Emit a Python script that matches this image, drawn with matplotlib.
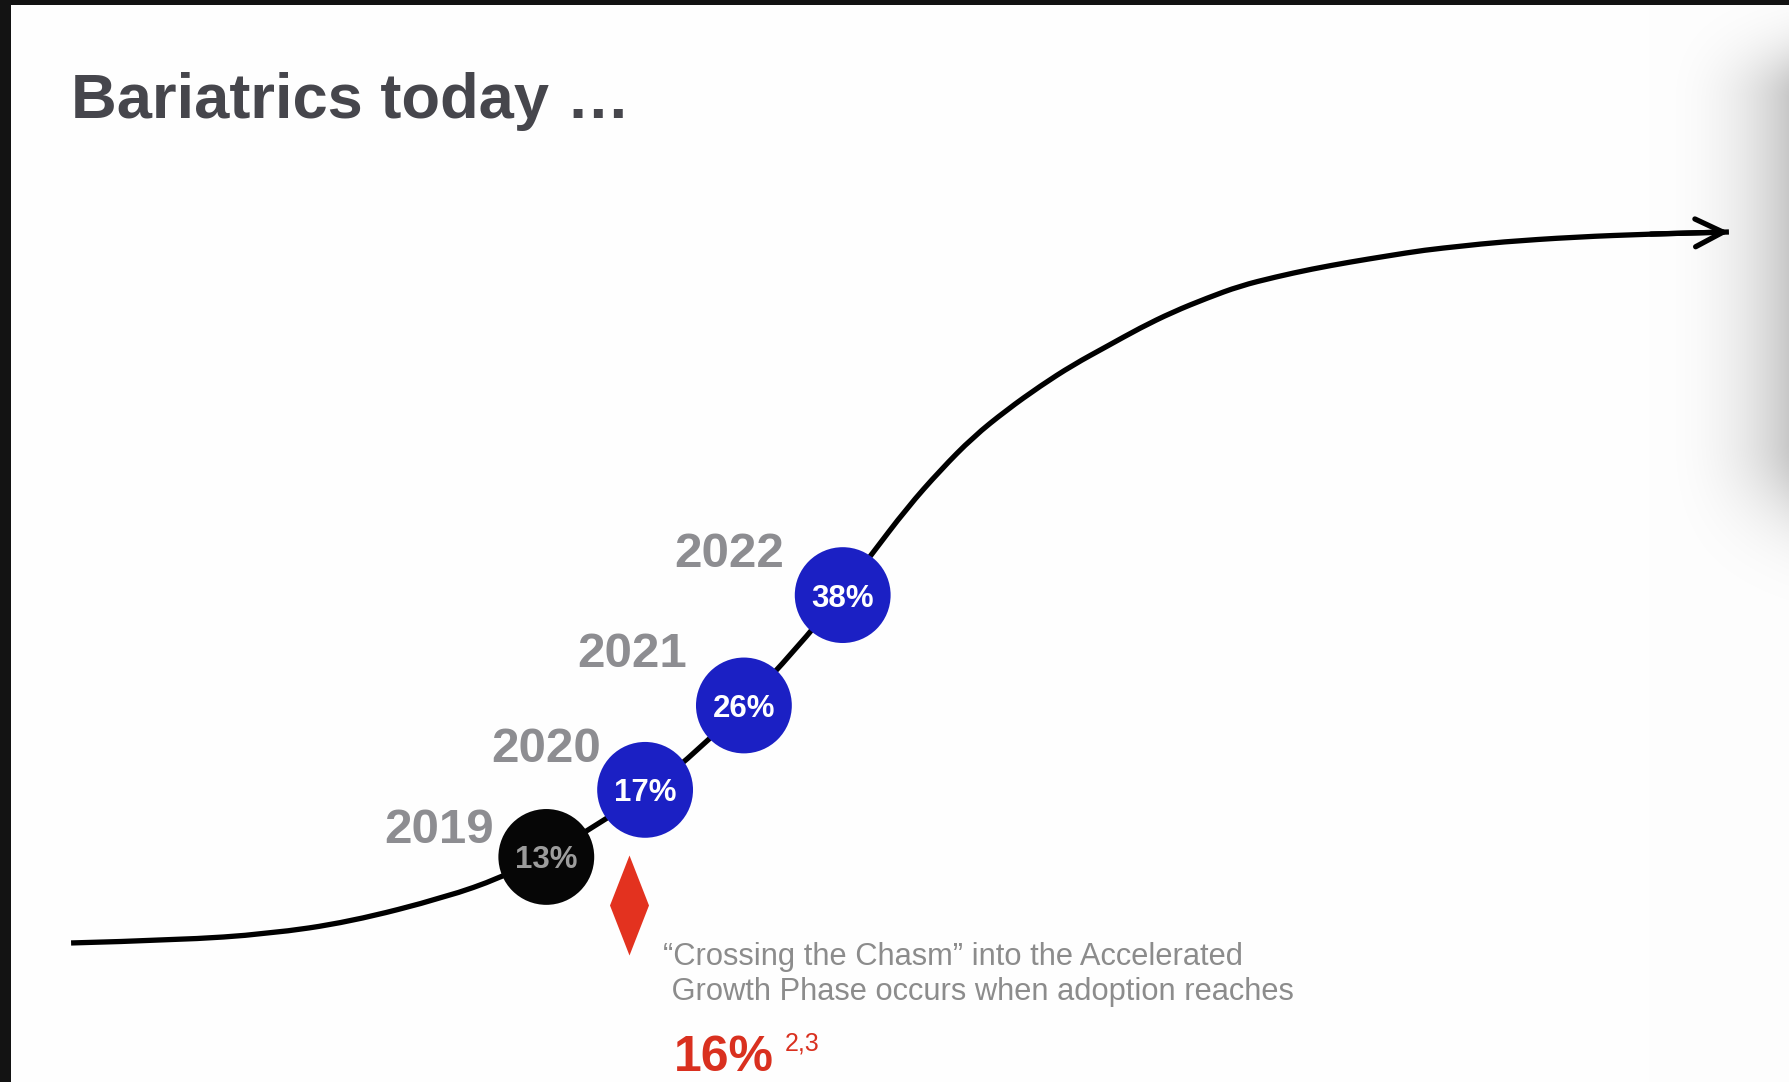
import numpy as np
import matplotlib.pyplot as plt
from matplotlib.path import Path
from matplotlib.patches import Rectangle, PathPatch

plt.rcParams['font.family'] = ['Liberation Sans', 'DejaVu Sans']

W, H = 1789, 1082

# adoption by year
years = [2019, 2020, 2021, 2022]
year_labels = ['2019', '2020', '2021', '2022']
adoption = [13, 17, 26, 38]
# height of each year's marker on the curve (0-100, measured from the slide bottom)
marker_level = [20.8, 27.0, 34.8, 45.0]

# S-shaped adoption curve: (timeline year, height)
curve_year = [2014.19, 2015.28, 2016.18, 2017.01, 2017.99, 2018.53, 2018.97,
              2019.51, 2020.05, 2020.56, 2021.00, 2021.52, 2021.98, 2022.28,
              2022.65, 2022.99, 2023.32, 2023.66, 2024.00, 2024.33, 2024.68,
              2025.01, 2025.34, 2025.69, 2026.02, 2026.38, 2026.75, 2027.14,
              2027.51, 2027.89, 2028.27, 2028.65, 2029.42, 2030.18, 2030.97]
curve_level = [12.85, 13.12, 13.68, 14.79, 17.10, 18.85, 20.79,
               23.75, 26.99, 30.87, 34.84, 39.93, 45.01, 48.61,
               53.05, 56.56, 59.61, 62.11, 64.33, 66.27, 68.02,
               69.69, 71.16, 72.46, 73.57, 74.40, 75.14, 75.79,
               76.34, 76.89, 77.26, 77.63, 78.10, 78.37, 78.56]

chasm_threshold = 16
chasm_refs = '2,3'
title = 'Bariatrics today \u2026'
caption = ['\u201cCrossing the Chasm\u201d into the Accelerated',
           ' Growth Phase occurs when adoption reaches']

BLUE = '#1b20c4'
GREY_TXT = '#8d8d91'
RED = '#d9301f'


def fpos(x, y):
    # pixel position from the top-left corner -> figure fraction
    return x / W, 1 - y / H


def smooth_path(xs, ys):
    # quadratic b-spline through the knot midpoints
    pts = np.column_stack([xs, ys])
    verts, codes = [pts[0]], [Path.MOVETO]
    for i in range(1, len(pts) - 1):
        verts += [pts[i], (pts[i] + pts[i + 1]) / 2]
        codes += [Path.CURVE3, Path.CURVE3]
    verts.append(pts[-1])
    codes.append(Path.LINETO)
    return Path(verts, codes)


fig = plt.figure(figsize=(W / 100, H / 100), dpi=100)
fig.patch.set_facecolor('#fefefe')

# soft grey shadow along the right edge
sh_w = 140
xx = np.linspace(0, 1, sh_w)[None, :]
yy = np.arange(H)[:, None]
horiz = xx ** 2.4
vert = np.where(yy < 100, np.exp(-((yy - 100) / 55.0) ** 2),
                np.where(yy > 440, np.exp(-((yy - 440) / 80.0) ** 2), 1.0))
dark = 0.21 * horiz * vert
shade = np.ones((H, sh_w, 3)) * (1 - dark)[:, :, None] * 0.996
fig.figimage(shade, xo=W - sh_w, yo=0, origin='upper', zorder=-1)

# dark window frame on top and left
fig.patches.append(Rectangle((0, 1 - 5 / H), 1, 5 / H, transform=fig.transFigure,
                             facecolor='#121212', edgecolor='none', zorder=5))
fig.patches.append(Rectangle((0, 0), 11 / W, 1, transform=fig.transFigure,
                             facecolor='#131313', edgecolor='none', zorder=5))

ax = fig.add_axes([0, 0, 1, 1])
ax.patch.set_visible(False)
ax.set_xlim(2013.4706, 2031.578)
ax.set_ylim(0, 100)
ax.axis('off')

# curve with an open arrowhead at the end
ax.add_patch(PathPatch(smooth_path(curve_year, curve_level), facecolor='none',
                       edgecolor='black', lw=3.8, capstyle='butt',
                       joinstyle='round', zorder=2))
ax.annotate('', xy=(curve_year[-1], curve_level[-1]),
            xytext=(curve_year[-2], curve_level[-2]),
            arrowprops=dict(arrowstyle='->,head_length=1.0,head_width=0.5',
                            lw=3.8, color='black', mutation_scale=20,
                            shrinkA=0, shrinkB=0),
            zorder=2)

# yearly markers
colors = ['#060606'] + [BLUE] * (len(years) - 1)
txt_colors = ['#9c9c9c'] + ['white'] * (len(years) - 1)
ax.scatter(years, marker_level, s=69 ** 2, c=colors, edgecolors='none', zorder=3)

label_off = [(-52, 14), (-44, 28), (-57, 38), (-59, 28)]
for yr, lvl, pct, lab, tc, off in zip(years, marker_level, adoption,
                                      year_labels, txt_colors, label_off):
    ax.annotate(f'{pct}%', (yr, lvl), xytext=(0, -11.5), textcoords='offset pixels',
                ha='center', va='baseline', fontsize=22.5, fontweight='bold',
                color=tc, zorder=4)
    ax.annotate(lab, (yr, lvl), xytext=off, textcoords='offset pixels',
                ha='right', va='baseline', fontsize=35.5, fontweight='bold',
                color=GREY_TXT, zorder=4)

# chasm marker
diamond = Path([(0, 1), (0.39, 0), (0, -1), (-0.39, 0), (0, 1)],
               [Path.MOVETO, Path.LINETO, Path.LINETO, Path.LINETO, Path.CLOSEPOLY])
ax.plot([2019.84], [16.36], marker=diamond, markersize=72, color='#e3321f',
        markeredgewidth=0, linestyle='none', zorder=3)

# texts
fig.text(*fpos(71, 118), title, fontsize=45.5, fontweight='bold', color='#46464c',
         ha='left', va='baseline')
fig.text(*fpos(663, 965), caption[0], fontsize=22.2, color='#8c8c8c',
         ha='left', va='baseline')
fig.text(*fpos(663, 1000), caption[1], fontsize=22.2, color='#8c8c8c',
         ha='left', va='baseline')
fig.text(*fpos(674, 1071), f'{chasm_threshold}%', fontsize=36, fontweight='bold',
         color=RED, ha='left', va='baseline')
fig.text(*fpos(785, 1050), chasm_refs, fontsize=18, color=RED,
         ha='left', va='baseline')

fig.savefig('out.png', dpi=100, facecolor=fig.get_facecolor())
